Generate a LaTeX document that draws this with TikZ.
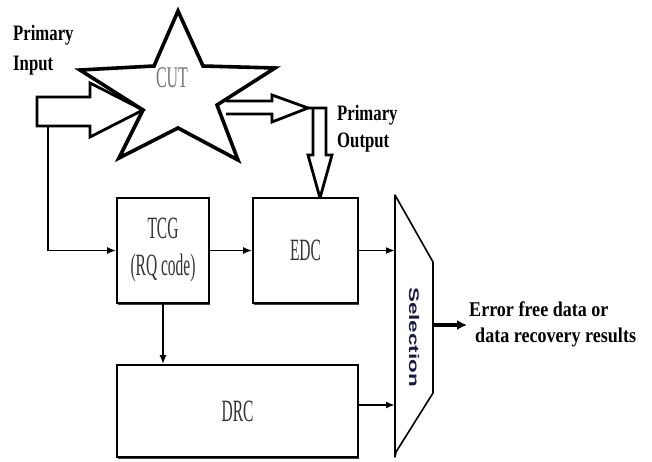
\documentclass[tikz,border=0pt]{standalone}
\usepackage{graphicx}
\usepackage{fontspec}
\setmainfont{Liberation Serif}
\setsansfont{Liberation Sans}
\usetikzlibrary{arrows.meta,shadows}

% narrow (horizontally squeezed) text helpers
\newcommand\slimtxt[1]{\scalebox{0.5}[1]{#1}}
\newcommand\boldtxt[1]{\scalebox{0.76}[1]{\bfseries #1}}
\newcommand\restxt[1]{\scalebox{0.86}[1]{\bfseries #1}}

\begin{document}
\begin{tikzpicture}[x=1pt,y=-1pt,
  blk/.style={draw,line width=1.6pt,rectangle,inner sep=0pt,align=center,fill=white,
    font=\fontsize{31}{37}\selectfont,text=black!80,
    drop shadow={shadow xshift=0.8pt,shadow yshift=-1.6pt,fill=black!75,opacity=1}},
  conn/.style={line width=1.8pt,-{Latex[length=9pt,width=7pt]}},
  outarr/.style={line width=3.6pt,-{Latex[length=10pt,width=10pt]}},
  hollow/.style={line width=2.8pt,line join=miter},
  starline/.style={line width=3.6pt,line join=miter},
  lbl/.style={inner sep=0pt,anchor=base west,font=\fontsize{22}{26}\selectfont},
  reslbl/.style={inner sep=0pt,anchor=base west,font=\fontsize{21}{26}\selectfont},
]
\useasboundingbox (0,0) rectangle (652,461);

% the circuit under test, drawn as a five-pointed star
\draw[starline] (178,11) -- (203,66) -- (275,68) -- (217,105) -- (238,160)
  -- (178,128) -- (119,158) -- (143,110) -- (80,70) -- (154,66) -- cycle;
\node[inner sep=0pt,font=\fontsize{30}{34}\selectfont,text=black!55] (cut) at (172,78)
  {\scalebox{0.53}[1]{CUT}};

% primary input block arrow into the star
\draw[hollow] (37,97) -- (90,97) -- (90,83) -- (143,110) -- (90,137) -- (90,126)
  -- (37,126) -- cycle;
\coordinate (inFoot) at (48,126);

% primary output block arrows
\draw[hollow] (226,101) -- (272,101) -- (272,95) -- (308,108) -- (272,122)
  -- (272,114) -- (226,114);
\draw[hollow] (308,108) -- (326,108) -- (326,155) -- (332,155) -- (320,198)
  -- (308,155) -- (313,155) -- (313,108);

% labels of the primary ports
\node[lbl] (pin1) at (13,40) {\boldtxt{Primary}};
\node[lbl] (pin2) at (13,70) {\boldtxt{Input}};
\node[lbl] (pout1) at (337,120) {\boldtxt{Primary}};
\node[lbl] (pout2) at (337,147) {\boldtxt{Output}};

% functional blocks
\node[blk,minimum width=92pt,minimum height=105pt] (tcg) at (163,250.5)
  {\slimtxt{TCG}\\\slimtxt{(RQ code)}};
\node[blk,minimum width=105pt,minimum height=105pt] (edc) at (305.5,250.5)
  {\slimtxt{EDC}};
\node[blk,minimum width=241pt,minimum height=92pt] (drc) at (237.5,411)
  {\slimtxt{DRC}};

% selection unit
\draw[line width=1.6pt,line join=round] (395,195) -- (433,262) -- (433,393)
  -- (396,452) -- (395,457) -- cycle;
\node[inner sep=0pt,rotate=-90,text={rgb,1:red,0.1;green,0.1;blue,0.3},
  font=\fontsize{14}{16}\selectfont\sffamily\bfseries] (sel) at (414,337)
  {\scalebox{1.6}[1]{Selection}};
\coordinate (selA) at (395,250.5);
\coordinate (selB) at (395,405);
\coordinate (selOut) at (433,325);
\coordinate (resTip) at (467,325);

% connectors
\draw[conn] (inFoot) |- (tcg.west);
\draw[conn] (tcg.east) -- (edc.west);
\draw[conn] (tcg.south) -- (drc.north -| tcg.south);
\draw[conn] (edc.east) -- (selA);
\draw[conn] (drc.east |- selB) -- (selB);
\draw[outarr] (selOut) -- (resTip);

% result text
\node[reslbl] (res1) at (469,316) {\restxt{Error free data or}};
\node[reslbl] (res2) at (475,342) {\restxt{data recovery results}};
\end{tikzpicture}
\end{document}
